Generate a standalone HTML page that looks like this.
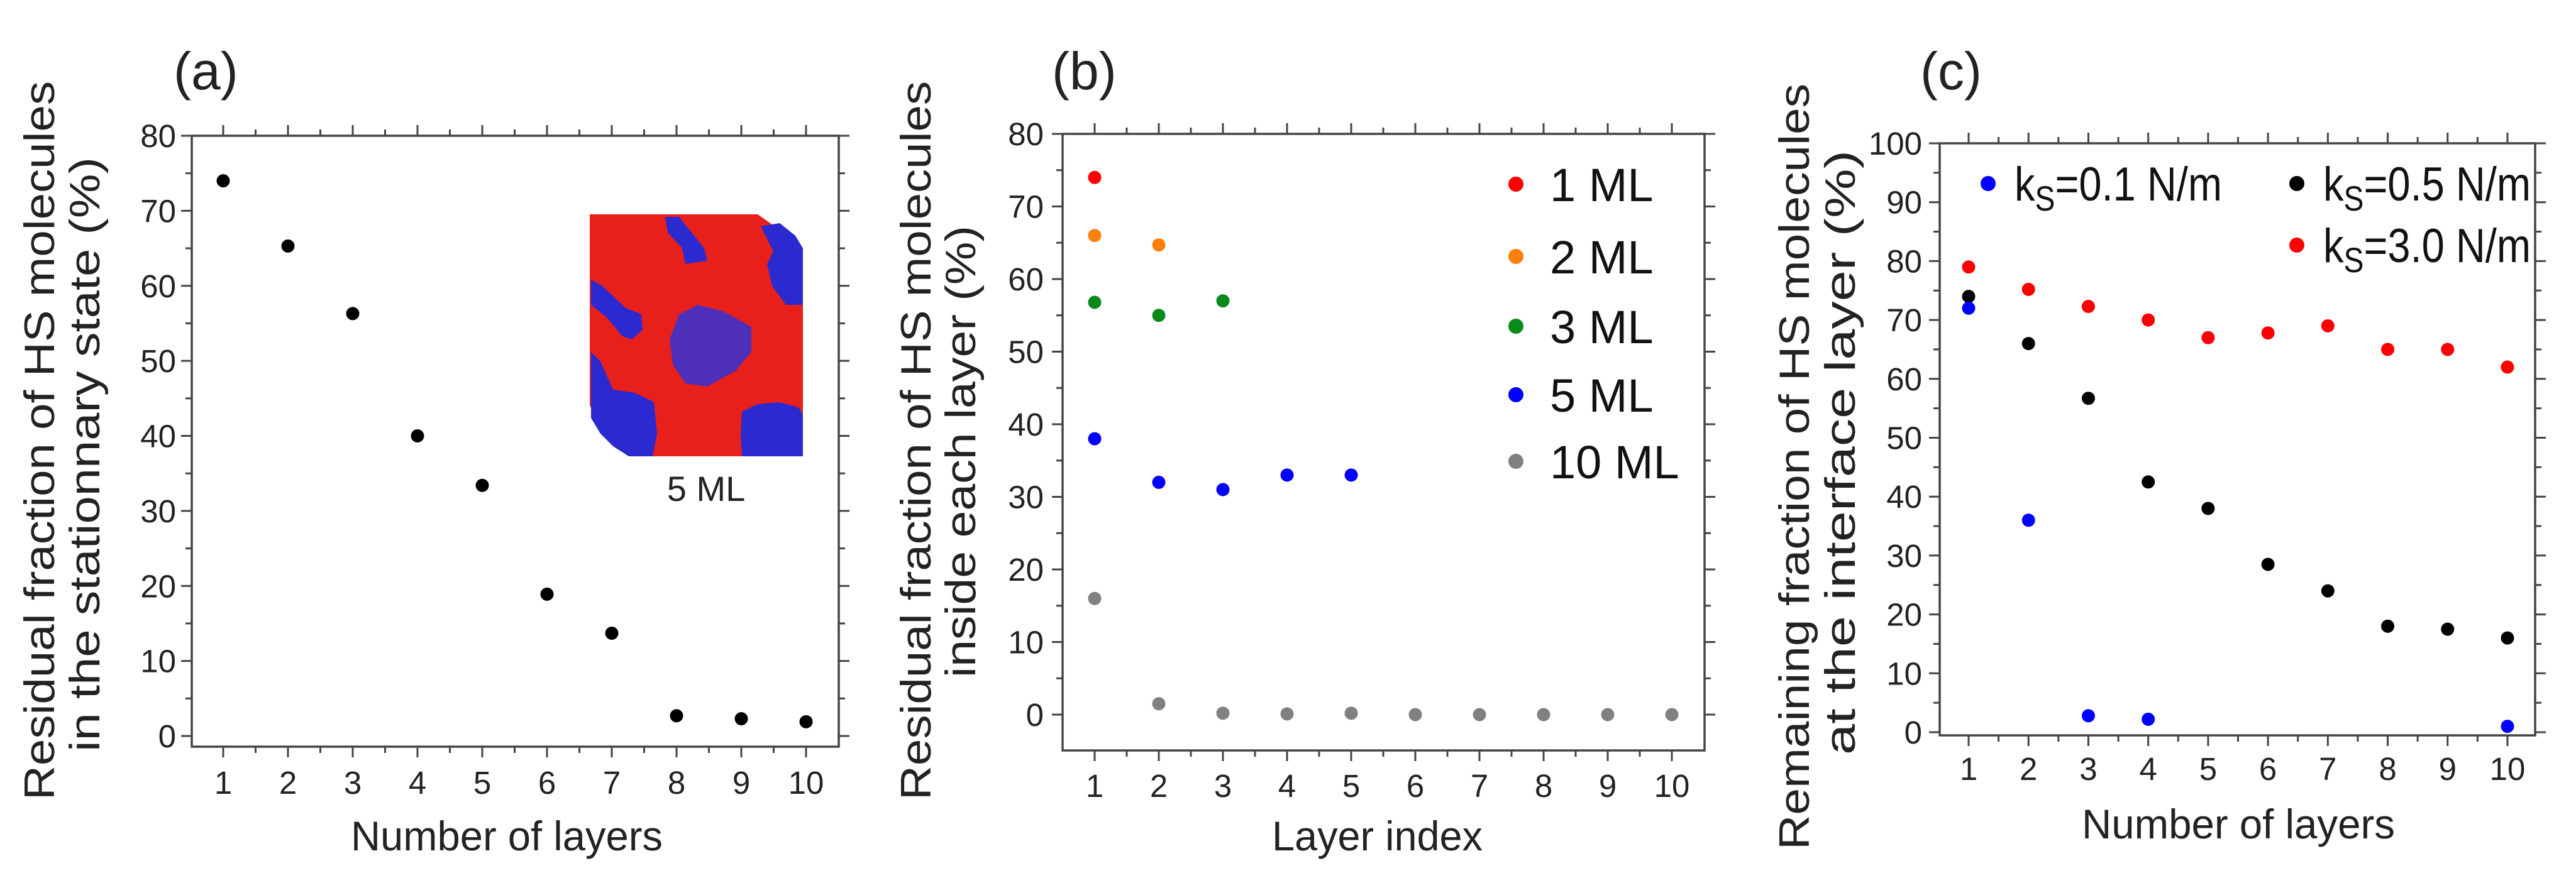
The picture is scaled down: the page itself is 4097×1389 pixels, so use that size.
<!DOCTYPE html>
<html><head><meta charset="utf-8"><style>
html,body{margin:0;padding:0;background:#fff;}
svg{display:block;font-family:"Liberation Sans","DejaVu Sans",sans-serif;}
</style></head><body>
<svg id="fig" width="4097" height="1389" viewBox="0 0 4097 1389" xmlns="http://www.w3.org/2000/svg">
<g id="inset">
  <path d="M938 341 L1205 341 L1225 355 L1240 368 L1255 380 L1270 392 L1277 400 L1277 726 L1020 726 L1000 716 L985 705 L970 690 L958 675 L945 660 L938 645 Z" fill="#e8201c"/>
  <path d="M1058 345 L1080 345 L1120 395 L1125 415 L1090 420 L1085 395 L1062 370 Z" fill="#2a2ad0"/>
  <path d="M1210 360 L1240 355 L1265 375 L1277 395 L1277 485 L1250 485 L1228 455 L1220 420 L1230 400 Z" fill="#2a2ad0"/>
  <path d="M940 445 L958 455 L995 490 L1020 500 L1022 525 L1005 540 L990 535 L965 505 L940 485 Z" fill="#2a2ad0"/>
  <path d="M1080 500 L1110 485 L1150 495 L1195 520 L1195 560 L1170 590 L1125 615 L1090 610 L1070 580 L1065 540 Z" fill="#3232d6" opacity="0.85"/>
  <path d="M940 560 L955 575 L975 620 L1010 625 L1040 640 L1045 690 L1038 726 L1000 726 L975 710 L955 690 L940 665 Z" fill="#2a2ad0"/>
  <path d="M1180 655 L1205 643 L1240 640 L1270 648 L1277 660 L1277 726 L1180 726 L1178 690 Z" fill="#2a2ad0"/>
</g>
<text x="1123" y="797" font-size="56" text-anchor="middle" fill="#222">5 ML</text>
</svg>
<script>
// ---------- DATA ----------
const layers = [1,2,3,4,5,6,7,8,9,10];
const aResidual = [74,65.3,56.3,40,33.4,18.9,13.7,2.7,2.3,1.9];
const b1ML = [74];
const b2ML = [66,64.7];
const b3ML = [56.8,55,57];
const b5ML = [38,32,31,33,33];
const b10ML = [16,1.5,0.2,0.1,0.2,0,0,0,0,0];
const cLayersBlue = [1,2,3,4,10];
const cBlue = [72,36,2.8,2.2,1];
const cBlack = [74,66,56.7,42.5,38,28.5,24,18,17.5,16];
const cRed = [79,75.2,72.3,70,67,67.8,69,65,65,62];
const yTicksAB = [0,10,20,30,40,50,60,70,80];
const yTicksC = [0,10,20,30,40,50,60,70,80,90,100];
const xTickLabels = ["1","2","3","4","5","6","7","8","9","10"];

const NS = "http://www.w3.org/2000/svg";
const svg = document.getElementById("fig");
function mk(tag, attrs, parent){
  const e = document.createElementNS(NS, tag);
  for (const k in attrs) e.setAttribute(k, attrs[k]);
  (parent||svg).appendChild(e);
  return e;
}
function makePanel(p){
  const g = mk("g", {});
  
  
  const xs = v => p.x1 + (v-1)*(p.x10-p.x1)/9;
  const ys = v => p.y0 - (v-0)*(p.y0-p.yTop)/(p.yTopVal);
  p.xs = xs; p.ys = ys;
  const L = p.left, R = p.right, T = p.top, B = p.bottom;
  const frame = mk("rect", {x:L, y:T, width:R-L, height:B-T, fill:"none", stroke:"#444", "stroke-width":3.5}, g);
  
  
  for (let v=1; v<=10.01; v+=0.5){
    const major = Math.abs(v-Math.round(v))<0.01;
    const len = major?17:10;
    const x = xs(v);
    const t1 = mk("line", {x1:x, x2:x, y1:B, y2:B+len, stroke:"#444", "stroke-width":3}, g);
    
    
    const t2 = mk("line", {x1:x, x2:x, y1:T, y2:T-len, stroke:"#444", "stroke-width":3}, g);
    
    
  }
  xTickLabels.forEach((lab,i)=>{
    const t = mk("text", {x:xs(layers[i]), y:p.xLabY, "font-size":51, "text-anchor":"middle", fill:"#222"}, g);
    t.textContent = lab;
    
    
  });
  const yt = p.yTicks;
  const step = yt[1]-yt[0];
  for (let v=yt[0]; v<=yt[yt.length-1]+0.01; v+=step/2){
    const major = Math.abs((v/step)-Math.round(v/step))<0.01;
    const len = major?17:10;
    const y = ys(v);
    const t1 = mk("line", {x1:L, x2:L-len, y1:y, y2:y, stroke:"#444", "stroke-width":3}, g);
    
    
    const t2 = mk("line", {x1:R, x2:R+len, y1:y, y2:y, stroke:"#444", "stroke-width":3}, g);
    
    
  }
  yt.forEach(v=>{
    const t = mk("text", {x:p.yLabX, y:ys(v)+18, "font-size":51, "text-anchor":"end", fill:"#222"}, g);
    t.textContent = String(v);
    
    
  });
  const xt = mk("text", {x:p.xTitle[0], y:p.xTitle[2], "font-size":66, fill:"#222", textLength:p.xTitle[1]-p.xTitle[0], lengthAdjust:"spacingAndGlyphs"}, g);
  xt.textContent = p.xTitleText;
  
  
  p.yTitles.forEach((yl,i)=>{
    const cx = yl[0], y1 = yl[1], y2 = yl[2];
    const t = mk("text", {x:0, y:0, "font-size":68, fill:"#222", "text-anchor":"middle", textLength:y2-y1, lengthAdjust:"spacingAndGlyphs",
      transform:`translate(${cx+24},${(y1+y2)/2}) rotate(-90)`}, g);
    t.textContent = yl[3];
    
    
  });
  const pl = mk("text", {x:p.label[0], y:p.label[1], "font-size":84, fill:"#222"}, g);
  pl.textContent = p.labelText;
  
  
  p.g = g;
  return p;
}
function dots(p, xsArr, vals, color, name, r){
  vals.forEach((v,i)=>{
    const c = mk("circle", {cx:p.xs(xsArr[i]), cy:p.ys(v), r:r||10.5, fill:color}, p.g);
    
    
  });
}
function legend(p, x, y, color, tx, fs, r){
  const c = mk("circle", {cx:x, cy:y, r:r, fill:color}, p.g);
  
  
  const t = mk("text", {x:tx, y:y+27, "font-size":fs, fill:"#111"}, p.g);
  
  
  return t;
}
function ksLegend(p, x, y, color, val){
  const t = legend(p, x, y, color, x+42, 76, 12);
  t.setAttribute("textLength", 330);
  t.setAttribute("lengthAdjust", "spacingAndGlyphs");
  const k = mk("tspan", {}, t); k.textContent = "k";
  const s = mk("tspan", {dy:16, "font-size":56}, t); s.textContent = "S";
  const r = mk("tspan", {dy:-16}, t); r.textContent = "=" + val + " N/m";
}

const pa = makePanel({name:"panel-a", left:305, right:1334, top:216, bottom:1188,
  x1:355, x10:1282, y0:1171, yTop:216, yTopVal:80, yTicks:yTicksAB, xLabY:1263, yLabX:280,
  xTitle:[558,1054,1353], xTitleText:"Number of layers",
  yTitles:[[62,129,1273,"Residual fraction of HS molecules"],[134,250,1196,"in the stationnary state (%)"]],
  label:[276,142], labelText:"(a)"});
dots(pa, layers, aResidual, "#000", "point-a");

const pb = makePanel({name:"panel-b", left:1690, right:2711, top:213, bottom:1194,
  x1:1741, x10:2659, y0:1137, yTop:213, yTopVal:80, yTicks:yTicksAB, xLabY:1268, yLabX:1660,
  xTitle:[2023,2358,1353], xTitleText:"Layer index",
  yTitles:[[1456,129,1273,"Residual fraction of HS molecules"],[1527,359,1078,"inside each layer (%)"]],
  label:[1673,142], labelText:"(b)"});
dots(pb, layers, b1ML, "#ff0000", "point-1ml");
dots(pb, layers, b2ML, "#ff7f0e", "point-2ml");
dots(pb, layers, b3ML, "#0a8a1a", "point-3ml");
dots(pb, layers, b5ML, "#0000ff", "point-5ml");
dots(pb, layers, b10ML, "#808080", "point-10ml");
const bLegendColors = ["#ff0000","#ff7f0e","#0a8a1a","#0000ff","#808080"];
const bLegendLabels = ["1 ML","2 ML","3 ML","5 ML","10 ML"];
const bLegendY = [293,408,519,628,734];
bLegendLabels.forEach((lab,i)=>{ const t = legend(pb, 2411, bLegendY[i], bLegendColors[i], 2465, 74, 12); t.textContent = lab; });

const pc = makePanel({name:"panel-c", left:3085, right:4032, top:228, bottom:1170,
  x1:3131, x10:3988, y0:1165, yTop:228, yTopVal:100, yTicks:yTicksC, xLabY:1241, yLabX:3057,
  xTitle:[3311,3809,1334], xTitleText:"Number of layers",
  yTitles:[[2853,133,1352,"Remaining fraction of HS molecules"],[2926,239,1201,"at the interface layer (%)"]],
  label:[3054,142], labelText:"(c)"});
dots(pc, layers, cRed, "#ff0000", "point-ks-3.0");
dots(pc, layers, cBlack, "#000", "point-ks-0.5");
dots(pc, cLayersBlue, cBlue, "#0000ff", "point-ks-0.1");
ksLegend(pc, 3162, 292, "#0000ff", "0.1");
ksLegend(pc, 3653, 292, "#000", "0.5");
ksLegend(pc, 3653, 390, "#ff0000", "3.0");
</script>
</body></html>
